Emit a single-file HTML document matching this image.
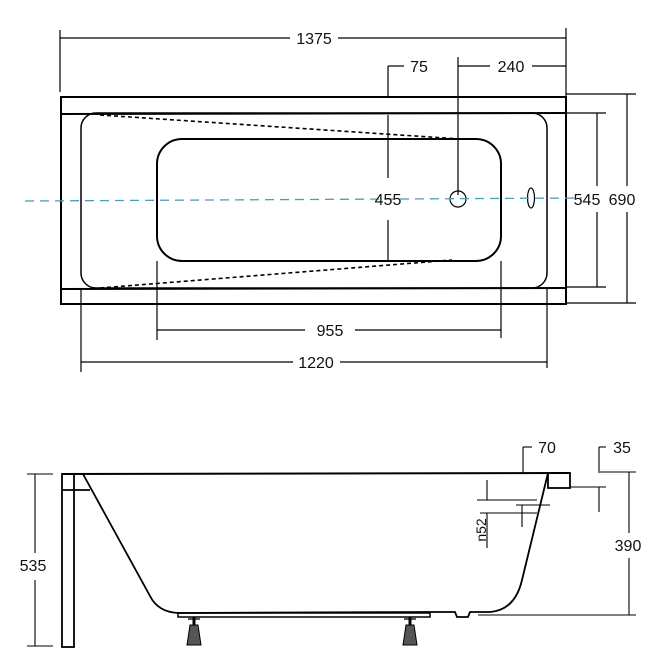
<!DOCTYPE html>
<html><head><style>body{margin:0;background:#fff}</style></head><body>
<svg width="665" height="665" viewBox="0 0 665 665" xmlns="http://www.w3.org/2000/svg" font-family="Liberation Sans, sans-serif" font-size="16">
<g stroke="#000" fill="none" stroke-width="1.2">
<line x1="60" y1="30" x2="60" y2="92"/><line x1="566" y1="28" x2="566" y2="97"/>
<line x1="60" y1="38" x2="290" y2="38"/><line x1="338" y1="38" x2="566" y2="38"/>
<line x1="388" y1="66" x2="388" y2="97"/><line x1="388" y1="66" x2="404" y2="66"/>
<line x1="458" y1="57" x2="458" y2="195"/><line x1="458" y1="66" x2="490" y2="66"/><line x1="532" y1="66" x2="566" y2="66"/>
<rect x="61" y="97" width="505" height="207" stroke-width="2"/>
<line x1="61" y1="114" x2="566" y2="113" stroke-width="2"/>
<line x1="61" y1="289" x2="566" y2="288" stroke-width="2"/>
<rect x="81" y="113" width="466" height="175" rx="15" stroke-width="1.5"/>
<rect x="157" y="139" width="344" height="122" rx="25" stroke-width="2"/>
<line x1="100" y1="115" x2="460" y2="139" stroke-dasharray="4,3" stroke-width="1.6"/>
<line x1="100" y1="288" x2="452" y2="260" stroke-dasharray="4,3" stroke-width="1.6"/>
<line x1="388" y1="115" x2="388" y2="178"/><line x1="388" y1="220" x2="388" y2="260"/>
<circle cx="458" cy="199" r="8"/>
<ellipse cx="531" cy="198" rx="3.5" ry="10"/>
<line x1="566" y1="113" x2="606" y2="113"/><line x1="566" y1="287" x2="606" y2="287"/>
<line x1="597" y1="113" x2="597" y2="186"/><line x1="597" y1="212" x2="597" y2="287"/>
<line x1="566" y1="94" x2="636" y2="94"/><line x1="566" y1="303" x2="636" y2="303"/>
<line x1="627" y1="94" x2="627" y2="186"/><line x1="627" y1="212" x2="627" y2="303"/>
<line x1="157" y1="261" x2="157" y2="340"/><line x1="501" y1="261" x2="501" y2="338"/>
<line x1="157" y1="330" x2="305" y2="330"/><line x1="355" y1="330" x2="501" y2="330"/>
<line x1="81" y1="288" x2="81" y2="372"/><line x1="547" y1="288" x2="547" y2="368"/>
<line x1="81" y1="362" x2="293" y2="362"/><line x1="340" y1="362" x2="547" y2="362"/>
</g>
<line x1="25" y1="201" x2="582" y2="198" stroke="#4a9fb5" stroke-width="1.3" stroke-dasharray="9,6"/>
<g fill="#111" text-anchor="middle">
<text x="314" y="44">1375</text><text x="419" y="72">75</text><text x="511" y="72">240</text>
<text x="388" y="205">455</text><text x="587" y="205">545</text><text x="622" y="205">690</text>
<text x="330" y="336">955</text><text x="316" y="368">1220</text>
<text x="547" y="453">70</text><text x="622" y="453">35</text>
<text x="33" y="571">535</text><text x="628" y="551">390</text>
<text transform="translate(486,530) rotate(-90)" font-size="14">n52</text>
</g>
<g stroke="#000" fill="none" stroke-width="1.3">
<line x1="62" y1="474" x2="570" y2="473" stroke-width="2"/>
<rect x="548" y="473" width="22" height="15" stroke-width="1.8"/>
<rect x="62" y="474" width="12" height="173" stroke-width="1.8"/>
<line x1="62" y1="490" x2="90" y2="490" stroke-width="1.8"/>
<path d="M83 474 L150 596 Q158 612 178 613 L430 612 L455 612 L457 617 L468 617 L470 612 L490 612 Q515 610 522 580 L548 473" stroke-width="1.8"/>
<rect x="178" y="613" width="252" height="4" stroke-width="1.5"/>
<line x1="194" y1="617" x2="194" y2="625" stroke-width="3"/><line x1="410" y1="617" x2="410" y2="625" stroke-width="3"/>
<line x1="188" y1="619" x2="200" y2="619"/><line x1="404" y1="619" x2="416" y2="619"/>
</g>
<path d="M190 625 L198 625 L201 645 L187 645 Z" fill="#555" stroke="#000"/>
<path d="M406 625 L414 625 L417 645 L403 645 Z" fill="#555" stroke="#000"/>
<g stroke="#000" fill="none" stroke-width="1.1">
<line x1="27" y1="474" x2="53" y2="474"/><line x1="27" y1="646" x2="53" y2="646"/>
<line x1="35" y1="474" x2="35" y2="553"/><line x1="35" y1="580" x2="35" y2="646"/>
<line x1="600" y1="472" x2="636" y2="472"/><line x1="478" y1="615" x2="636" y2="615"/>
<line x1="629" y1="472" x2="629" y2="533"/><line x1="629" y1="558" x2="629" y2="615"/>
<line x1="523" y1="447" x2="523" y2="473"/><line x1="523" y1="447" x2="532" y2="447"/>
<line x1="599" y1="447" x2="599" y2="473"/><line x1="599" y1="447" x2="606" y2="447"/>
<line x1="570" y1="487" x2="606" y2="487"/><line x1="599" y1="487" x2="599" y2="512"/>
<line x1="487" y1="480" x2="487" y2="500"/><line x1="477" y1="500" x2="537" y2="500"/>
<line x1="516" y1="505" x2="550" y2="505"/><line x1="522" y1="505" x2="522" y2="527"/>
<line x1="480" y1="513" x2="537" y2="513"/><line x1="487" y1="513" x2="487" y2="548"/>
</g>
</svg>
</body></html>
